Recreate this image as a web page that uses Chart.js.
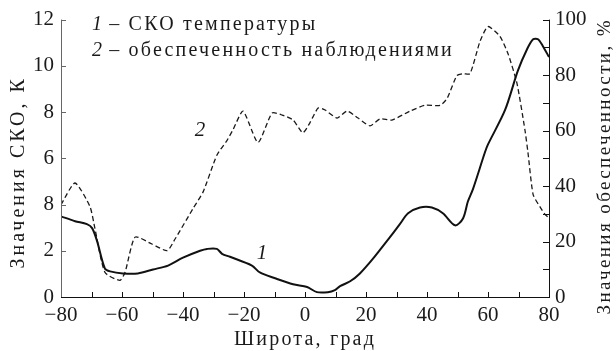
<!DOCTYPE html>
<html>
<head>
<meta charset="utf-8">
<script src="https://cdn.jsdelivr.net/npm/chart.js@4/dist/chart.umd.min.js"></script>
<style>
  html, body { margin: 0; padding: 0; background: #fff; }
  canvas { display: block; }
</style>
</head>
<body>
<canvas id="c" width="616" height="351"></canvas>
<script>
// Latitude (deg) and RMS of temperature (K), curve 1
const latStd = [-80, -75.4, -71.5, -69.8, -68.2, -65.6, -63.9, -59.7, -54.8, -49.8, -44.9, -40, -34.4, -32.1, -28.9, -27.2, -24.6, -17.4, -14.8, -9.8, -3.9, 0.7, 3.9, 7.5, 9.8, 11.5, 14.8, 18, 22.3, 26.9, 31.1, 33.8, 37.7, 41.6, 45.2, 49.2, 51.8, 53.4, 55.1, 59, 60, 65.6, 69.8, 72.8, 74.8, 76.4, 78, 80];
const stdValues = [3.49, 3.28, 3.15, 2.98, 2.43, 1.23, 1.11, 1.02, 1.02, 1.19, 1.36, 1.7, 2.0, 2.08, 2.08, 1.87, 1.74, 1.36, 1.06, 0.81, 0.55, 0.43, 0.21, 0.21, 0.3, 0.47, 0.68, 1.02, 1.66, 2.43, 3.15, 3.62, 3.87, 3.87, 3.62, 3.1, 3.4, 4.13, 4.68, 6.26, 6.6, 8.09, 9.79, 10.72, 11.15, 11.15, 10.85, 10.38];

// Latitude (deg) and observation coverage (%), curve 2
const latCoverage = [-80, -75.4, -70.5, -68.9, -65.6, -60.7, -59, -55.7, -50.2, -45.2, -42.6, -36.7, -33.4, -28.9, -25.6, -23.6, -20.3, -15.4, -10.8, -7.5, -3.9, -0.7, 1.6, 4.3, 6.6, 10.5, 13.8, 17.4, 21.3, 24.6, 28.5, 34.4, 39.3, 44.3, 46.6, 49.8, 51.8, 54.1, 57.4, 60, 63.9, 66.6, 69.5, 72.1, 73.1, 74.8, 77, 78.7, 80];
const coverageValues = [33.3, 41.1, 32.6, 24.8, 8.9, 6.0, 8.9, 21.6, 19.1, 16.7, 20.9, 31.9, 37.9, 51.1, 56.4, 60.3, 67.0, 55.7, 66.3, 65.6, 63.8, 59.2, 62.8, 68.1, 67.4, 64.5, 67.0, 64.5, 61.7, 64.2, 63.8, 67.0, 69.1, 69.1, 71.6, 79.8, 80.5, 80.5, 92.2, 97.5, 94.0, 87.6, 77.0, 60.3, 52.1, 36.9, 32.6, 29.8, 28.5];

// Tick labels
const leftTickLabels = ['0', '2', '8', '6', '8', '10', '12'];   // values 0, 2, ..., 12
const rightTickLabels = ['0', '20', '40', '60', '80', '100'];  // values 0, 20, ..., 100
const xTickLabels = ['\u221280', '\u221260', '\u221240', '\u221220', '0', '20', '40', '60', '80'];

// Texts
const xTitle = 'Широта, град';
const leftTitle = 'Значения СКО, К';
const rightTitle = 'Значения обеспеченности, %';
const legendRows = [['1', ' \u2013 СКО температуры'], ['2', ' \u2013 обеспеченность наблюдениями']];

const SERIF = '"Liberation Serif", "Times New Roman", serif';
const INK = '#1a1a1a';

const toPoints = (xs, ys) => xs.map((x, i) => ({ x, y: ys[i] }));

// draws letter-spaced text centred at (x, y), rotated by angle
function spacedText(ctx, text, x, y, size, spacing, angle) {
  ctx.save();
  ctx.font = size + 'px ' + SERIF;
  ctx.letterSpacing = spacing + 'px';
  ctx.textAlign = 'center';
  ctx.textBaseline = 'middle';
  ctx.translate(x, y);
  if (angle) ctx.rotate(angle);
  ctx.fillText(text, 0, 0);
  ctx.restore();
}

const decorations = {
  id: 'decorations',
  afterDatasetsDraw(chart) {
    const { ctx, chartArea: a, scales } = chart;
    const sx = scales.x, sy = scales.y, sr = scales.y1;
    ctx.save();

    // axis lines
    ctx.lineWidth = 1;
    ctx.strokeStyle = '#666';
    ctx.beginPath(); ctx.moveTo(a.left + 0.5, a.top); ctx.lineTo(a.left + 0.5, a.bottom); ctx.stroke();
    ctx.strokeStyle = '#111';
    ctx.beginPath(); ctx.moveTo(a.left, a.bottom + 0.5); ctx.lineTo(a.right + 1, a.bottom + 0.5); ctx.stroke();
    ctx.beginPath(); ctx.moveTo(a.right + 0.5, a.top); ctx.lineTo(a.right + 0.5, a.bottom); ctx.stroke();

    // inward tick marks
    ctx.strokeStyle = '#111';
    for (let v = -70; v <= 70; v += 10) {
      const px = Math.round(sx.getPixelForValue(v)) + 0.5;
      ctx.beginPath(); ctx.moveTo(px, a.bottom); ctx.lineTo(px, a.bottom - 5); ctx.stroke();
    }
    ctx.strokeStyle = '#666';
    for (let v = 2; v <= 12; v += 2) {
      const py = Math.round(sy.getPixelForValue(v)) + 0.5;
      ctx.beginPath(); ctx.moveTo(a.left, py); ctx.lineTo(a.left + 5, py); ctx.stroke();
    }
    ctx.strokeStyle = '#111';
    for (let v = 10; v <= 100; v += 10) {
      const py = Math.round(sr.getPixelForValue(v)) + 0.5;
      ctx.beginPath(); ctx.moveTo(a.right, py); ctx.lineTo(a.right - 6, py); ctx.stroke();
    }

    ctx.fillStyle = INK;

    // axis titles
    const midY = (a.top + a.bottom) / 2;
    spacedText(ctx, xTitle, (a.left + a.right) / 2, 340, 20, 2.2);
    spacedText(ctx, leftTitle, 19, midY + 14, 20, 3, -Math.PI / 2);
    spacedText(ctx, rightTitle, 605, midY + 8, 19, 2.4, -Math.PI / 2);

    // legend rows
    ctx.textAlign = 'left';
    ctx.textBaseline = 'alphabetic';
    legendRows.forEach((row, i) => {
      const x0 = a.left + 31;
      const y0 = a.top + 10 + i * 26;
      ctx.letterSpacing = '0px';
      ctx.font = 'italic 20px ' + SERIF;
      ctx.fillText(row[0], x0, y0);
      const w = ctx.measureText(row[0]).width;
      ctx.font = '20px ' + SERIF;
      ctx.letterSpacing = '2.2px';
      ctx.fillText(row[1], x0 + w, y0);
    });
    ctx.letterSpacing = '0px';

    // curve numbers
    ctx.font = 'italic 21px ' + SERIF;
    ctx.textAlign = 'center';
    ctx.textBaseline = 'middle';
    ctx.fillText('2', sx.getPixelForValue(-34.4), sr.getPixelForValue(60));
    ctx.fillText('1', sx.getPixelForValue(-14.1), sy.getPixelForValue(1.87));

    ctx.restore();
  }
};

new Chart(document.getElementById('c'), {
  type: 'line',
  data: {
    datasets: [
      {
        data: toPoints(latStd, stdValues),
        yAxisID: 'y',
        borderColor: '#111',
        borderWidth: 2,
        pointRadius: 0,
        tension: 0.3,
        fill: false
      },
      {
        data: toPoints(latCoverage, coverageValues),
        yAxisID: 'y1',
        borderColor: '#1a1a1a',
        borderWidth: 1.3,
        borderDash: [5, 3],
        pointRadius: 0,
        tension: 0.2,
        fill: false
      }
    ]
  },
  options: {
    responsive: false,
    animation: false,
    devicePixelRatio: 1,
    layout: { padding: { top: 15, left: 0, right: 0, bottom: 0 } },
    plugins: { legend: { display: false }, tooltip: { enabled: false } },
    scales: {
      x: {
        type: 'linear',
        min: -80, max: 80,
        afterFit: s => { s.height = 54; },
        grid: { display: false, drawTicks: false },
        border: { display: false },
        ticks: {
          stepSize: 20,
          padding: 6,
          maxRotation: 0,
          autoSkip: false,
          color: INK,
          font: { family: SERIF, size: 21 },
          callback: v => xTickLabels[(v + 80) / 20] ?? ''
        }
      },
      y: {
        position: 'left',
        min: 0, max: 12,
        afterFit: s => { s.width = 61; },
        grid: { display: false, drawTicks: false },
        border: { display: false },
        ticks: {
          stepSize: 2,
          padding: 7,
          autoSkip: false,
          color: INK,
          font: { family: SERIF, size: 21 },
          callback: v => leftTickLabels[v / 2] ?? ''
        }
      },
      y1: {
        position: 'right',
        min: 0, max: 100,
        afterFit: s => { s.width = 67; },
        grid: { display: false, drawTicks: false },
        border: { display: false },
        ticks: {
          stepSize: 20,
          padding: 6,
          autoSkip: false,
          color: INK,
          font: { family: SERIF, size: 21 },
          callback: v => rightTickLabels[v / 20] ?? ''
        }
      }
    }
  },
  plugins: [decorations]
});
</script>
</body>
</html>
